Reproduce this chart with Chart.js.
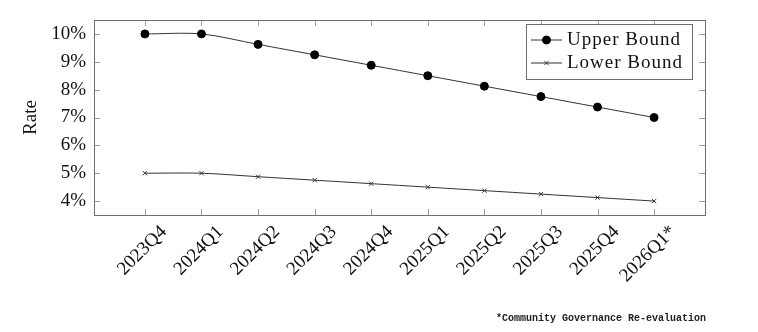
<!DOCTYPE html>
<html>
<head>
<meta charset="utf-8">
<script src="https://cdn.jsdelivr.net/npm/chart.js@4.4.1/dist/chart.umd.min.js"></script>
<style>
  html, body { margin: 0; padding: 0; background: #fff; }
  #wrap { width: 758px; height: 332px; }
</style>
</head>
<body>
<div id="wrap"><canvas id="rateChart" width="758" height="332"></canvas></div>
<script>
const quarters = ["2023Q4", "2024Q1", "2024Q2", "2024Q3", "2024Q4", "2025Q1", "2025Q2", "2025Q3", "2025Q4", "2026Q1*"];
const upperBound = [10, 10, 9.625, 9.25, 8.875, 8.5, 8.125, 7.75, 7.375, 7.0];
const lowerBound = [5, 5, 4.875, 4.75, 4.625, 4.5, 4.375, 4.25, 4.125, 4.0];
const rateTicks = [4, 5, 6, 7, 8, 9, 10];
const footnote = "*Community Governance Re-evaluation";

const serif = '"Liberation Serif", "Times New Roman", serif';
const textFont = { family: serif, size: 19 };

function toPoints(values) {
  return values.map((v, i) => ({ x: i, y: v }));
}

// box around the plot plus small inward tick marks on every side
const framePlugin = {
  id: "frame",
  beforeDatasetsDraw(chart) {
    const { ctx, chartArea: a, scales } = chart;
    const len = 6;
    ctx.save();
    ctx.strokeStyle = "#a0a0a0";
    ctx.lineWidth = 1;
    ctx.beginPath();
    scales.x.ticks.forEach(t => {
      const px = Math.round(scales.x.getPixelForValue(t.value)) + 0.5;
      ctx.moveTo(px, a.bottom); ctx.lineTo(px, a.bottom - len);
      ctx.moveTo(px, a.top); ctx.lineTo(px, a.top + len);
    });
    scales.y.ticks.forEach(t => {
      const py = Math.round(scales.y.getPixelForValue(t.value)) + 0.5;
      ctx.moveTo(a.left, py); ctx.lineTo(a.left + len, py);
      ctx.moveTo(a.right, py); ctx.lineTo(a.right - len, py);
    });
    ctx.stroke();
    ctx.strokeStyle = "#6e6e6e";
    ctx.strokeRect(Math.round(a.left) + 0.5, Math.round(a.top) + 0.5,
      Math.round(a.right - a.left), Math.round(a.bottom - a.top));
    ctx.restore();
  },
  afterDatasetsDraw(chart) {
    // legend box in the upper right corner of the plot
    const { ctx, chartArea: a } = chart;
    const w = 166, h = 55;
    const x0 = a.right - 13 - w, y0 = a.top + 4;
    ctx.save();
    ctx.fillStyle = "#fff";
    ctx.fillRect(x0, y0, w, h);
    ctx.strokeStyle = "#6e6e6e";
    ctx.lineWidth = 1;
    ctx.strokeRect(Math.round(x0) + 0.5, Math.round(y0) + 0.5, w, h);
    ctx.font = `${textFont.size}px ${serif}`;
    ctx.textBaseline = "middle";
    if ("letterSpacing" in ctx) ctx.letterSpacing = "1px";
    chart.data.datasets.forEach((ds, i) => {
      const cy = y0 + 16 + i * 23;
      ctx.strokeStyle = ds.borderColor;
      ctx.lineWidth = ds.borderWidth;
      ctx.beginPath();
      ctx.moveTo(x0 + 5, cy);
      ctx.lineTo(x0 + 36, cy);
      ctx.stroke();
      ctx.fillStyle = ds.pointBackgroundColor;
      ctx.strokeStyle = ds.pointBorderColor;
      ctx.lineWidth = ds.pointBorderWidth;
      Chart.helpers.drawPoint(ctx, {
        pointStyle: ds.pointStyle, radius: ds.pointRadius, rotation: 0, borderWidth: ds.pointBorderWidth
      }, x0 + 20.5, cy);
      ctx.fillStyle = "#111";
      ctx.fillText(ds.label, x0 + 41, cy);
    });
    ctx.restore();
  },
  afterDraw(chart) {
    const { ctx, chartArea: a, scales } = chart;
    ctx.save();
    // rotated quarter labels, centred a little right of each tick
    ctx.font = `${textFont.size}px ${serif}`;
    ctx.fillStyle = "#111";
    ctx.textAlign = "right";
    ctx.textBaseline = "middle";
    scales.x.ticks.forEach(t => {
      const px = scales.x.getPixelForValue(t.value);
      ctx.save();
      ctx.translate(px + 19, a.bottom + 14);
      ctx.rotate(-Math.PI / 4);
      ctx.fillText(quarters[t.value], 0, 0);
      ctx.restore();
    });
    ctx.font = 'bold 10px "Liberation Mono", monospace';
    ctx.fillStyle = "#222";
    ctx.fillText(footnote, a.right + 1, 318);
    ctx.restore();
  }
};

new Chart(document.getElementById("rateChart"), {
  type: "line",
  data: {
    datasets: [
      {
        label: "Upper Bound",
        data: toPoints(upperBound),
        borderColor: "#333",
        borderWidth: 1,
        pointStyle: "circle",
        pointRadius: 4,
        pointBackgroundColor: "#000",
        pointBorderColor: "#000",
        pointBorderWidth: 1,
        tension: 0.3,
      },
      {
        label: "Lower Bound",
        data: toPoints(lowerBound),
        borderColor: "#333",
        borderWidth: 1,
        pointStyle: "crossRot",
        pointRadius: 3,
        pointBackgroundColor: "#333",
        pointBorderColor: "#333",
        pointBorderWidth: 1,
        tension: 0.3,
      },
    ],
  },
  options: {
    responsive: false,
    animation: false,
    layout: { padding: { top: 20, right: 53, left: 0, bottom: 0 } },
    plugins: {
      legend: { display: false },
      tooltip: { enabled: false },
    },
    scales: {
      x: {
        type: "linear",
        min: -0.9,
        max: 9.9,
        grid: { display: false, drawTicks: false },
        border: { display: false },
        afterBuildTicks(scale) {
          scale.ticks = quarters.map((q, i) => ({ value: i }));
        },
        afterFit(scale) { scale.height = 117; },
        ticks: { display: false },
      },
      y: {
        min: 3.5,
        max: 10.5,
        grid: { display: false, drawTicks: false },
        border: { display: false },
        afterBuildTicks(scale) {
          scale.ticks = rateTicks.map(v => ({ value: v }));
        },
        afterFit(scale) { scale.width = 94; },
        ticks: {
          padding: 8,
          color: "#111",
          font: textFont,
          callback: (v) => v + "%",
        },
        title: {
          display: true,
          text: "Rate",
          color: "#111",
          font: textFont,
          padding: { top: 20, bottom: 0 },
        },
      },
    },
  },
  plugins: [framePlugin],
});
</script>
</body>
</html>
